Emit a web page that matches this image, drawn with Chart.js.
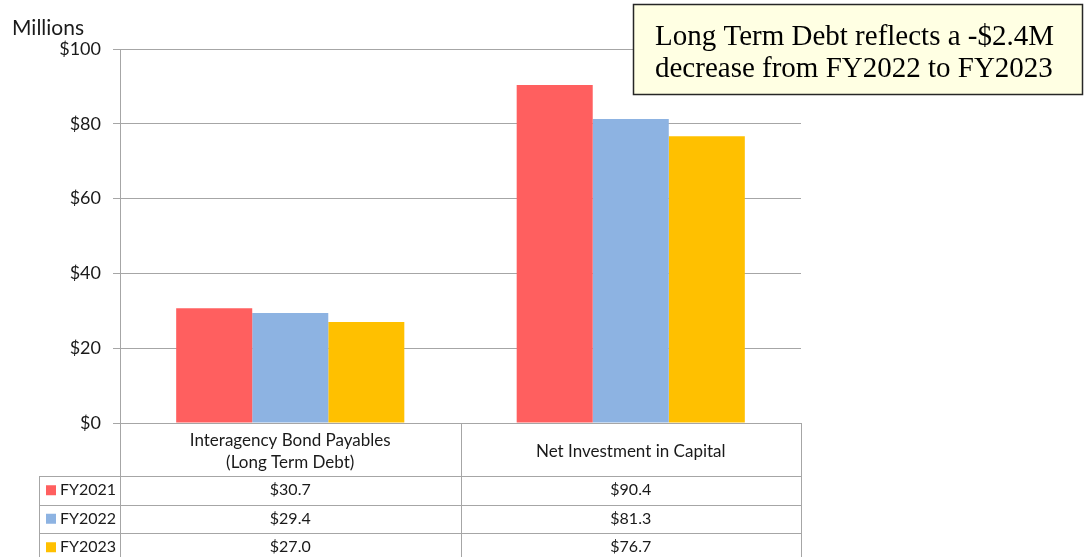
<!DOCTYPE html>
<html>
<head>
<meta charset="utf-8">
<script src="https://cdn.jsdelivr.net/npm/chart.js@4"></script>
<style>
  html, body { margin: 0; padding: 0; background: #fff; }
  #wrap { width: 1084px; height: 557px; position: relative; }
</style>
</head>
<body>
<div id="wrap"><canvas id="c" width="1084" height="557"></canvas></div>
<script>
const categories = [["Interagency Bond Payables", "(Long Term Debt)"], ["Net Investment in Capital"]];
const seriesNames = ["FY2021", "FY2022", "FY2023"];
const fy2021 = [30.7, 90.4];
const fy2022 = [29.4, 81.3];
const fy2023 = [27.0, 76.7];
const seriesColors = ["#FF5F5F", "#8DB3E2", "#FFC000"];
const yMin = 0, yMax = 100, yStep = 20;
const unitLabel = "Millions";
const noteLines = ["Long Term Debt reflects a -$2.4M", "decrease from FY2022 to FY2023"];

const GRID = "#A6A6A6";
const TEXT = "#1a1a1a";
const SANS = "Lato, 'Open Sans', sans-serif";

const tablePlugin = {
  id: "dataTable",
  afterDraw(chart) {
    const ctx = chart.ctx;
    const a = chart.chartArea;
    const xs = chart.scales.x;
    const left = a.left, right = a.right, top0 = a.bottom;
    const n = categories.length;
    const bounds = [];
    for (let i = 0; i <= n; i++) bounds.push(left + (right - left) * i / n);
    const headerBottom = top0 + 53;
    const rowH = 28.5;
    const legLeft = 39;
    const bottom = chart.height + 5;
    ctx.save();
    ctx.strokeStyle = GRID;
    ctx.lineWidth = 1;
    ctx.beginPath();
    bounds.forEach(b => { const x = Math.round(b) + 0.5; ctx.moveTo(x, top0); ctx.lineTo(x, bottom); });
    ctx.moveTo(legLeft + 0.5, headerBottom); ctx.lineTo(legLeft + 0.5, bottom);
    for (let r = 0; r <= seriesNames.length; r++) {
      const y = Math.round(headerBottom + r * rowH) + 0.5;
      ctx.moveTo(legLeft, y); ctx.lineTo(right, y);
    }
    ctx.stroke();

    ctx.fillStyle = TEXT;
    ctx.font = "17px " + SANS;
    ctx.textAlign = "center";
    ctx.textBaseline = "middle";
    categories.forEach((lines, i) => {
      const cx = xs.getPixelForValue(i);
      const mid = (top0 + headerBottom) / 2 + 2;
      const lh = 22;
      lines.forEach((t, k) => {
        ctx.fillText(t, cx, mid + (k - (lines.length - 1) / 2) * lh);
      });
    });
    ctx.font = "16px " + SANS;
    const data = [fy2021, fy2022, fy2023];
    data.forEach((vals, r) => {
      const cy = headerBottom + r * rowH + rowH / 2;
      vals.forEach((v, i) => {
        ctx.textAlign = "center";
        ctx.fillText("$" + v.toFixed(1), xs.getPixelForValue(i), cy);
      });
      ctx.fillStyle = seriesColors[r];
      ctx.fillRect(46, cy - 5, 10, 10);
      ctx.fillStyle = TEXT;
      ctx.textAlign = "left";
      ctx.fillText(seriesNames[r], 60, cy);
    });

    ctx.font = "21px " + SANS;
    ctx.textAlign = "left";
    ctx.fillText(unitLabel, 12, 28);

    const bx = 633.5, by = 4.5, bw = 449, bh = 90;
    ctx.fillStyle = "#FFFFE3";
    ctx.fillRect(bx, by, bw, bh);
    ctx.strokeStyle = "#262626";
    ctx.lineWidth = 1.5;
    ctx.strokeRect(bx, by, bw, bh);
    ctx.fillStyle = "#000";
    ctx.font = "29px 'Liberation Serif', 'Times New Roman', serif";
    ctx.textAlign = "left";
    ctx.fillText(noteLines[0], 655, 37);
    ctx.fillText(noteLines[1], 655, 69);
    ctx.restore();
  }
};

new Chart(document.getElementById("c"), {
  type: "bar",
  data: {
    labels: categories,
    datasets: seriesNames.map((name, i) => ({
      label: name,
      data: [fy2021, fy2022, fy2023][i],
      backgroundColor: seriesColors[i],
      borderWidth: 0,
      categoryPercentage: 0.67,
      barPercentage: 1.0
    }))
  },
  options: {
    responsive: false,
    animation: false,
    layout: { padding: { top: 49, right: 283, bottom: 134, left: 0 } },
    plugins: { legend: { display: false }, tooltip: { enabled: false } },
    scales: {
      x: { display: false },
      y: {
        min: yMin, max: yMax,
        afterFit(s) { s.width = 120; },
        ticks: {
          stepSize: yStep,
          padding: 12,
          color: TEXT,
          font: { size: 18, family: SANS },
          callback: v => "$" + v
        },
        grid: { color: GRID, lineWidth: 1, tickLength: 7, drawTicks: true },
        border: { color: GRID, width: 1 }
      }
    }
  },
  plugins: [tablePlugin]
});
</script>
</body>
</html>
